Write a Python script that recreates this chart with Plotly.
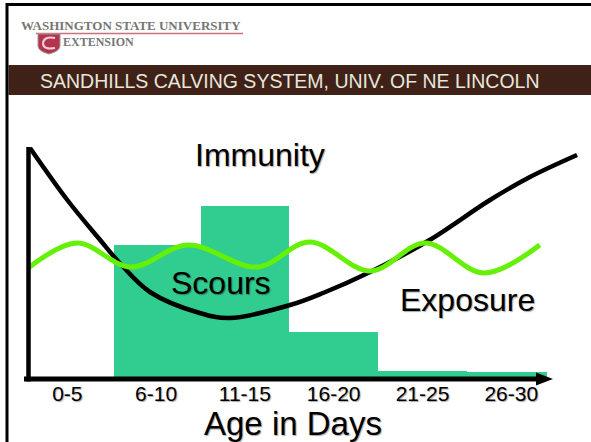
import plotly.graph_objects as go

# ---------------- data ----------------
age_groups = ["0-5", "6-10", "11-15", "16-20", "21-25", "26-30"]
scours = [0, 134, 173, 47, 8, 7]            # relative level of scours cases

# Immunity curve (position along age axis in category units, relative level)
immunity_x = [-0.42, 0.0, 0.37, 0.59, 0.93, 1.49, 1.83, 2.51, 2.88, 3.41, 4.08, 4.76, 5.21, 5.74]
immunity_y = [231, 179, 139, 116, 87, 66, 61, 74, 86, 107, 139, 179, 202, 224]

# Exposure curve
exposure_x = [-0.44, 0.11, 0.71, 1.36, 2.14, 2.73, 3.41, 4.03, 4.69, 5.32]
exposure_y = [111, 136, 112, 134, 112, 137, 108, 136, 106, 134]

title_text = "SANDHILLS CALVING SYSTEM, UNIV. OF NE LINCOLN"
x_title = "Age in Days"

# ---------------- layout helpers ----------------
W, H = 591, 442
def PX(px):
    return px / W
def PY(py):
    return 1 - py / H

AX_Y = 379          # pixel row of the x axis
X0_PX, STEP_PX = 67.3, 88.8
x_range = [(0 - X0_PX) / STEP_PX, (W - X0_PX) / STEP_PX]

FONT = "Liberation Sans, Arial, sans-serif"
SHADOW = "1px 1px 1px rgba(0,0,0,0.35)"

fig = go.Figure()

fig.add_trace(go.Bar(
    x=list(range(len(age_groups))), y=scours,
    marker=dict(color="#30cc90", line=dict(width=0)),
    width=[1, 0.97, 1, 1, 1, 0.9], offset=[-0.5, -0.47, -0.5, -0.5, -0.5, -0.5],
    name="Scours", hoverinfo="y",
))
fig.add_trace(go.Scatter(
    x=immunity_x, y=immunity_y, mode="lines",
    line=dict(color="black", width=4.5, shape="spline", smoothing=1.0),
    name="Immunity",
))
fig.add_trace(go.Scatter(
    x=exposure_x, y=exposure_y, mode="lines",
    line=dict(color="#66f006", width=5, shape="spline", smoothing=1.0),
    name="Exposure",
))

shapes = [
    # frame
    dict(type="line", xref="paper", yref="paper", x0=PX(7), x1=1, y0=PY(4.5), y1=PY(4.5),
         line=dict(color="black", width=3)),
    dict(type="line", xref="paper", yref="paper", x0=PX(7), x1=PX(7), y0=PY(3), y1=0,
         line=dict(color="black", width=3)),
    # banner
    dict(type="rect", xref="paper", yref="paper", x0=PX(8.5), x1=1, y0=PY(95), y1=PY(65),
         fillcolor="#3f2118", line=dict(width=0), layer="below"),
    # logo underline
    dict(type="line", xref="paper", yref="paper", x0=PX(36), x1=PX(243), y0=PY(33.5), y1=PY(33.5),
         line=dict(color="#c9707e", width=1.5)),
    # logo shield
    dict(type="path", xref="paper", yref="paper",
         path=(f"M {PX(38)},{PY(34)} L {PX(60)},{PY(34)} L {PX(60)},{PY(46)} "
               f"Q {PX(60)},{PY(51)} {PX(49)},{PY(54)} Q {PX(38)},{PY(51)} {PX(38)},{PY(46)} Z"),
         fillcolor="#b43450", line=dict(color="#9a9a9a", width=1)),
    dict(type="path", xref="paper", yref="paper",
         path=(f"M {PX(55)},{PY(38)} Q {PX(43)},{PY(36)} {PX(43)},{PY(44)} "
               f"Q {PX(44)},{PY(50)} {PX(55)},{PY(48)}"),
         line=dict(color="#f0d0d8", width=2)),
    # y axis
    dict(type="line", xref="paper", yref="paper", x0=PX(28.5), x1=PX(28.5), y0=PY(147), y1=PY(AX_Y + 2.5),
         line=dict(color="black", width=4.5)),
    # x axis
    dict(type="line", xref="paper", yref="paper", x0=PX(24), x1=PX(540), y0=PY(AX_Y), y1=PY(AX_Y),
         line=dict(color="black", width=5)),
    dict(type="path", xref="paper", yref="paper",
         path=f"M {PX(536)},{PY(AX_Y-6.5)} L {PX(553)},{PY(AX_Y)} L {PX(536)},{PY(AX_Y+6.5)} Z",
         fillcolor="black", line=dict(width=0)),
]

annotations = [
    dict(text=title_text, xref="paper", yref="paper", x=PX(290), y=PY(80.5),
         showarrow=False, xanchor="center", yanchor="middle",
         font=dict(family=FONT, size=19.5, color="#e6e6dc")),
    dict(text="WASHINGTON STATE UNIVERSITY", xref="paper", yref="paper", x=PX(131), y=PY(25),
         showarrow=False, xanchor="center", yanchor="middle",
         font=dict(family="Liberation Serif, serif", size=13, color="#767676", weight="bold")),
    dict(text="EXTENSION", xref="paper", yref="paper", x=PX(98), y=PY(42.5),
         showarrow=False, xanchor="center", yanchor="middle",
         font=dict(family="Liberation Serif, serif", size=12, color="#767676", weight="bold")),
    dict(text="Immunity", xref="paper", yref="paper", x=PX(260), y=PY(155),
         showarrow=False, xanchor="center", yanchor="middle",
         font=dict(family=FONT, size=32, color="black", shadow=SHADOW)),
    dict(text="Scours", xref="paper", yref="paper", x=PX(221), y=PY(283),
         showarrow=False, xanchor="center", yanchor="middle",
         font=dict(family=FONT, size=32, color="black", shadow=SHADOW)),
    dict(text="Exposure", xref="paper", yref="paper", x=PX(467), y=PY(300),
         showarrow=False, xanchor="center", yanchor="middle",
         font=dict(family=FONT, size=32, color="black", shadow=SHADOW)),
    dict(text=x_title, xref="paper", yref="paper", x=PX(293), y=PY(423),
         showarrow=False, xanchor="center", yanchor="middle",
         font=dict(family=FONT, size=33, color="black", shadow=SHADOW)),
]

fig.update_layout(
    width=W, height=H,
    margin=dict(l=0, r=0, t=0, b=0),
    paper_bgcolor="white", plot_bgcolor="rgba(0,0,0,0)",
    showlegend=False, bargap=0,
    shapes=shapes, annotations=annotations,
    xaxis=dict(range=x_range, tickvals=list(range(len(age_groups))), ticktext=age_groups,
               showgrid=False, zeroline=False, showline=False, ticks="",
               ticklabelstandoff=0,
               tickfont=dict(family=FONT, size=21, color="black", shadow=SHADOW)),
    yaxis=dict(range=[0, AX_Y], domain=[1 - AX_Y / H, 1],
               showgrid=False, zeroline=False, showline=False,
               showticklabels=False, ticks=""),
)

fig.write_html(
    "out.html",
    config={"displayModeBar": False},
    post_script="document.body.style.margin='0';document.body.style.overflow='hidden';",
)
